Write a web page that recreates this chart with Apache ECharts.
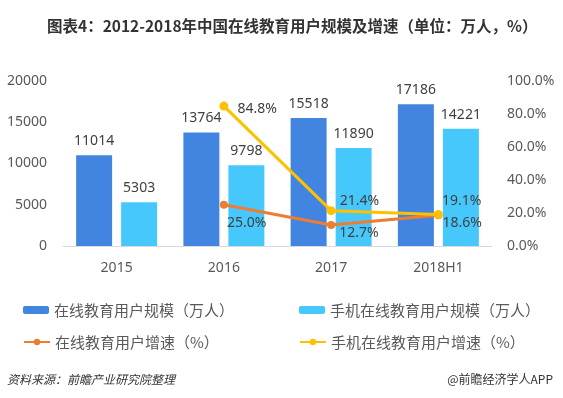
<!DOCTYPE html>
<html>
<head>
    <meta charset="utf-8">
    <title>在线教育用户规模及增速</title>
    <script src="https://cdn.jsdelivr.net/npm/echarts@6/dist/echarts.min.js"></script>
    <style>
        html, body { margin: 0; padding: 0; background: #fff; }
        #chart1 { width: 563px; height: 398px; }
    </style>
</head>
<body>
<div id="chart1"></div>
<script type="text/javascript">
    // 数据
    var years = ['2015', '2016', '2017', '2018H1'];
    var onlineUsers = [11014, 13764, 15518, 17186];
    var mobileUsers = [5303, 9798, 11890, 14221];
    var onlineGrowth = [null, 25.0, 12.7, 18.6];
    var mobileGrowth = [null, 84.8, 21.4, 19.1];
    var leftTicks = [0, 20000, 5000];
    var rightTicks = [0, 100, 20];

    // 折线标签位置微调
    var onlineOffsets = [null, [-6, 18], [-1, 8], [-5, 8]];
    var mobileOffsets = [null, [4, 3], [-1, -10], [-6, -13]];

    var font = '"Noto Sans", "Noto Sans CJK SC", sans-serif';
    var cjk = '"Noto Sans CJK SC", sans-serif';

    function lineData(values, offsets) {
        return values.map(function (v, i) {
            if (v === null) return null;
            return { value: v, label: { offset: offsets[i] } };
        });
    }

    function legendItem(name, left, top) {
        return {
            data: [name],
            left: left,
            top: top,
            itemWidth: 26,
            itemHeight: 8,
            textStyle: { fontFamily: cjk, fontSize: 15, color: '#595959', lineHeight: 20 }
        };
    }

    var myChart1 = echarts.init(document.getElementById('chart1'));
    myChart1.setOption({
        animation: false,
        title: {
            text: '图表4：2012-2018年中国在线教育用户规模及增速（单位：万人，%）',
            left: 42,
            top: 13,
            textStyle: { fontFamily: cjk, fontSize: 15.5, fontWeight: 'bold', color: '#333' }
        },
        legend: [
            legendItem('在线教育用户规模（万人）', 18, 295),
            legendItem('手机在线教育用户规模（万人）', 294, 295),
            legendItem('在线教育用户增速（%）', 18, 327),
            legendItem('手机在线教育用户增速（%）', 294, 327)
        ],
        grid: { left: 63, right: 71, top: 81, bottom: 152 },
        xAxis: {
            type: 'category',
            data: years,
            axisLine: { lineStyle: { color: '#d9d9d9' } },
            axisTick: { show: false },
            axisLabel: { fontFamily: font, fontSize: 14, color: '#595959', margin: 15 }
        },
        yAxis: [
            {
                type: 'value',
                min: leftTicks[0], max: leftTicks[1], interval: leftTicks[2],
                splitLine: { show: false },
                axisLine: { show: false },
                axisTick: { show: false },
                axisLabel: {
                    fontFamily: font, fontSize: 14, color: '#595959', margin: 16,
                    formatter: function (v) { return String(v); }
                }
            },
            {
                type: 'value',
                min: rightTicks[0], max: rightTicks[1], interval: rightTicks[2],
                splitLine: { show: false },
                axisLine: { show: false },
                axisTick: { show: false },
                axisLabel: {
                    fontFamily: font, fontSize: 14, color: '#595959', margin: 15,
                    formatter: function (v) { return v.toFixed(1) + '%'; }
                }
            }
        ],
        series: [
            {
                name: '在线教育用户规模（万人）',
                type: 'bar',
                data: onlineUsers,
                barWidth: 36,
                barGap: '25%',
                itemStyle: { color: '#4185E0' },
                label: { show: true, position: 'top', distance: 7, fontFamily: font, fontSize: 14, color: '#404040' }
            },
            {
                name: '手机在线教育用户规模（万人）',
                type: 'bar',
                data: mobileUsers,
                barWidth: 36,
                itemStyle: { color: '#47C8FC' },
                label: { show: true, position: 'top', distance: 7, fontFamily: font, fontSize: 14, color: '#404040' }
            },
            {
                name: '在线教育用户增速（%）',
                type: 'line',
                yAxisIndex: 1,
                data: lineData(onlineGrowth, onlineOffsets),
                symbol: 'circle',
                symbolSize: 8,
                lineStyle: { width: 3, color: '#ED7D31' },
                itemStyle: { color: '#ED7D31' },
                label: {
                    show: true, position: 'right', fontFamily: font, fontSize: 14, color: '#404040',
                    formatter: function (p) { return p.value.toFixed(1) + '%'; }
                }
            },
            {
                name: '手机在线教育用户增速（%）',
                type: 'line',
                yAxisIndex: 1,
                data: lineData(mobileGrowth, mobileOffsets),
                symbol: 'circle',
                symbolSize: 9,
                lineStyle: { width: 3, color: '#FFC000' },
                itemStyle: { color: '#FFC000' },
                label: {
                    show: true, position: 'right', fontFamily: font, fontSize: 14, color: '#404040',
                    formatter: function (p) { return p.value.toFixed(1) + '%'; }
                }
            }
        ],
        graphic: [
            {
                type: 'text', left: 7, top: 373,
                style: { text: '资料来源：前瞻产业研究院整理', fontFamily: cjk, fontSize: 12, fontStyle: 'italic', fill: '#333' }
            },
            {
                type: 'text', right: 10, top: 373,
                style: { text: '@前瞻经济学人APP', fontFamily: cjk, fontSize: 12, fill: '#333' }
            }
        ]
    });
</script>
</body>
</html>
